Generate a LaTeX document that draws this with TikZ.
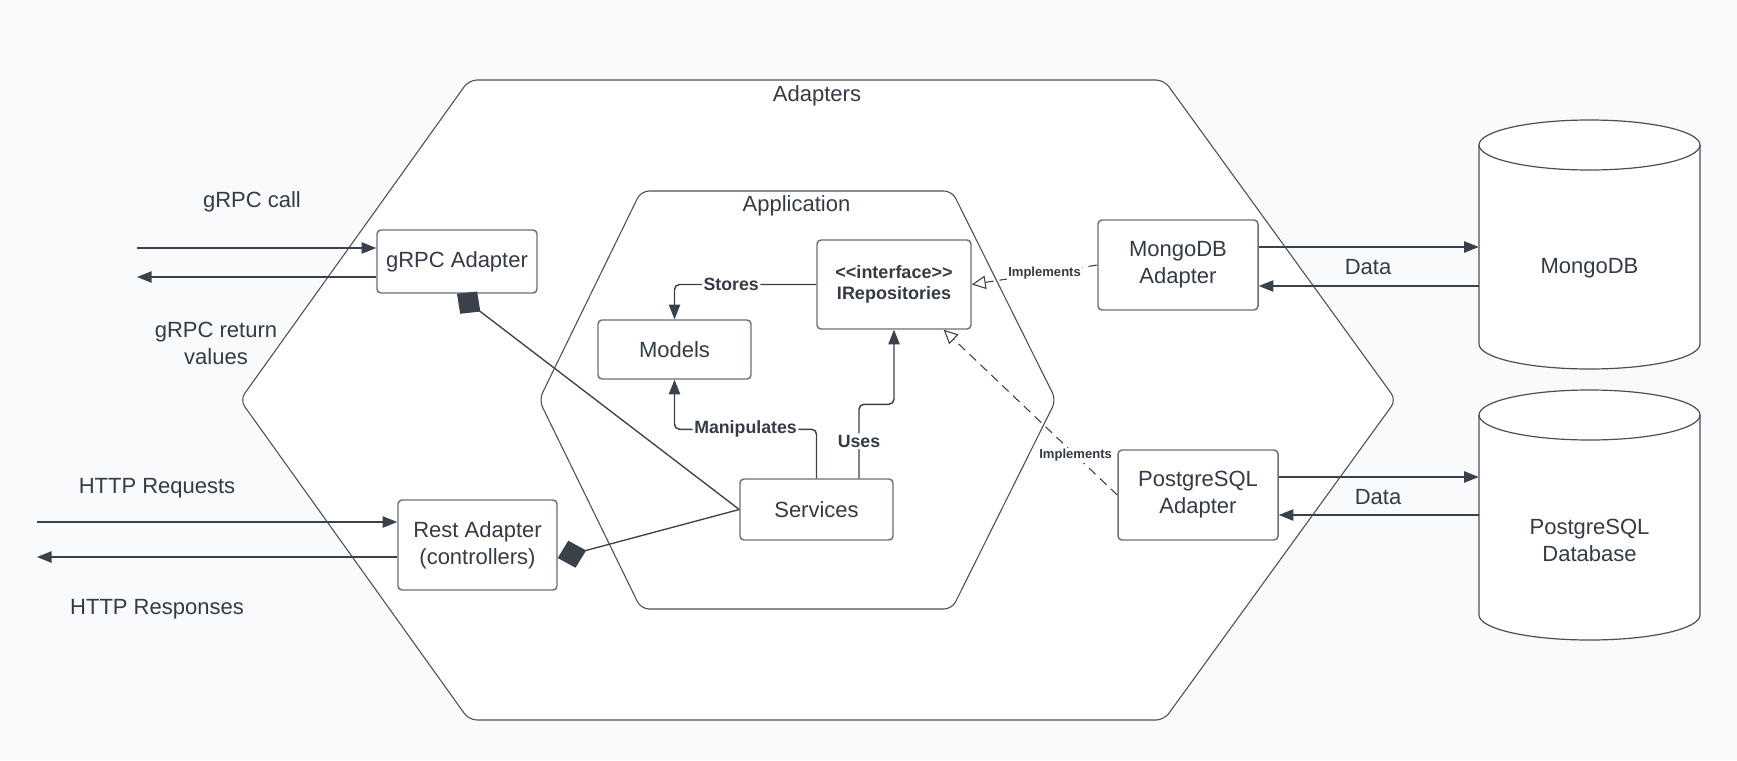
\documentclass[tikz,border=0pt]{standalone}
\usepackage{fontspec}
\setmainfont{Liberation Sans}
\usetikzlibrary{arrows.meta,calc}
\newlength\px \setlength\px{0.75pt}
\definecolor{bg}{HTML}{F9FAFB}
\definecolor{ink}{HTML}{3A414A}
\definecolor{txt}{HTML}{343B44}
\definecolor{boxc}{HTML}{6B7079}
\definecolor{hexc}{HTML}{4A4F57}
\begin{document}
\begin{tikzpicture}[x=0.75pt,y=-0.75pt,
  every node/.style={text=txt, font=\fontsize{16.5}{20.25}\selectfont},
  box/.style={draw=boxc, line width=1.1pt, fill=white, rounded corners=4\px, align=center, inner sep=0pt},
  hexagonal/.style={draw=hexc, line width=0.8pt, fill=white, rounded corners=8\px},
  conn/.style={draw=ink, line width=1.1pt, -{Triangle[length=11pt,width=8.5pt]}},
  lab/.style={font=\bfseries\fontsize{13.3}{16}\selectfont, fill=white, inner sep=1.2pt},
  impl/.style={draw=ink, line width=0.8pt, dash pattern=on 6.75pt off 4.5pt, -{Triangle[open,length=10.5pt,width=10pt,fill=white]}},
  implab/.style={font=\bfseries\fontsize{9.8}{12}\selectfont, fill=white, inner sep=1pt},
  dia/.style={draw=ink, line width=1pt, -{Diamond[length=22pt,width=21pt,fill=ink]}},
  cyl/.style={draw=hexc, line width=0.9pt, fill=white},
  plain/.style={align=center}
]
\useasboundingbox (0,0) rectangle (1737,760);
\fill[bg] (0,0) rectangle (1737,760);

% hexagons
\path[hexagonal] (816,80) -- (1164,80) -- (1396,400) -- (1164,720) -- (469,720) -- (240,400) -- (469,80) -- cycle;
\path[hexagonal] (796,191) -- (952,191) -- (1056,400) -- (952,609) -- (641,609) -- (539,400) -- (641,191) -- cycle;
\node (adlab) at (817,96) {Adapters};
\node (applab) at (796.5,206) {Application};

% cylinders
\path[cyl] (1479,145) -- (1479,344) arc[start angle=180, end angle=0, x radius=110.5, y radius=25] -- (1700,145) arc[start angle=0, end angle=-180, x radius=110.5, y radius=25] -- cycle;
\draw[cyl, fill=none] (1479,145) arc[start angle=180, end angle=0, x radius=110.5, y radius=25];
\path[cyl] (1479,415) -- (1479,615) arc[start angle=180, end angle=0, x radius=110.5, y radius=25] -- (1700,415) arc[start angle=0, end angle=-180, x radius=110.5, y radius=25] -- cycle;
\draw[cyl, fill=none] (1479,415) arc[start angle=180, end angle=0, x radius=110.5, y radius=25];
\node[minimum width=221\px, inner sep=0pt, align=center] (mongoDB) at (1589.5,268) {MongoDB};
\node[minimum width=221\px, inner sep=0pt, align=center] (pgDB) at (1589.5,540) {PostgreSQL\\Database};

% boxes
\node[box, minimum width=160\px, minimum height=63\px] (grpc) at (457,261.5) {gRPC Adapter};
\node[box, minimum width=153\px, minimum height=59\px] (models) at (674.5,349.5) {Models};
\node[box, minimum width=154\px, minimum height=89\px, font=\bfseries\fontsize{13.5}{15.75}\selectfont] (irepo) at (894,284.5) {<\kern0pt<interface>\kern0pt>\\IRepositories};
\node[box, minimum width=153\px, minimum height=61\px] (services) at (816.5,509.5) {Services};
\node[box, minimum width=159\px, minimum height=90\px] (rest) at (477.5,545) {Rest Adapter\\(controllers)};
\node[box, minimum width=160\px, minimum height=90\px] (mongoA) at (1178,265) {MongoDB\\Adapter};
\node[box, minimum width=160\px, minimum height=90\px] (pgA) at (1198,495) {PostgreSQL\\Adapter};

% external labels
\node (gcall) at (252,202) {gRPC call};
\node[plain] (gret) at (216,343) {gRPC return\\values};
\node (hreq) at (157,488) {HTTP Requests};
\node (hres) at (157,609) {HTTP Responses};
\node (data1) at (1368,267) {Data};
\node (data2) at (1378,497) {Data};

% external arrows
\coordinate (gcallL) at (137,248);
\coordinate (gretL) at (137,277);
\coordinate (hreqL) at (37,522);
\coordinate (hresL) at (37,557);
\draw[conn] (gcallL) -- (gcallL -| grpc.west);
\draw[conn] (gretL -| grpc.west) -- (gretL);
\draw[conn] (hreqL) -- (hreqL -| rest.west);
\draw[conn] (hresL -| rest.west) -- (hresL);

\coordinate (md1) at (1300,247);
\coordinate (md2) at (1300,286);
\coordinate (pd1) at (1300,477);
\coordinate (pd2) at (1300,515);
\draw[conn] (md1 -| mongoA.east) -- (md1 -| mongoDB.west);
\draw[conn] (md2 -| mongoDB.west) -- (md2 -| mongoA.east);
\draw[conn] (pd1 -| pgA.east) -- (pd1 -| pgDB.west);
\draw[conn] (pd2 -| pgDB.west) -- (pd2 -| pgA.east);

% internal connectors
\draw[conn, rounded corners=5\px] (irepo.west) -| node[lab, pos=0.3] {Stores} (models.north);
\draw[conn, rounded corners=5\px] (services.north) -- ++(0,-49) -| node[lab, pos=0.25] {Manipulates} (models.south);
\draw[conn, rounded corners=5\px] ($(services.north)+(42.5,0)$) -- node[lab] {Uses} ++(0,-74) -| (irepo.south);

\draw[impl] (mongoA.west) -- node[implab, pos=0.42] {Implements} (irepo.east);
\draw[impl] (pgA.west) -- node[implab, pos=0.24] {Implements} ($(irepo.south east)+(-28,0)$);

\draw[dia] (services.west) -- (grpc.south);
\draw[dia] (services.west) -- ($(rest.east)+(0,13)$);
\end{tikzpicture}
\end{document}
